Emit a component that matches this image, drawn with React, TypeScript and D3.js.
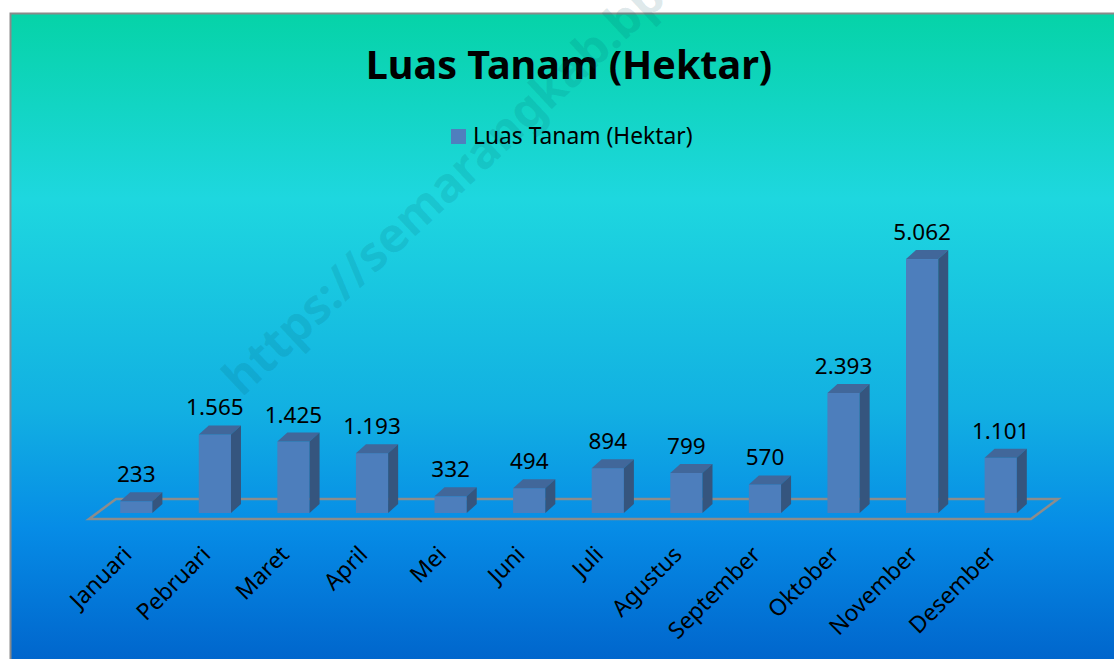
import React from "react";
import * as d3 from "d3";

const months = ["Januari","Pebruari","Maret","April","Mei","Juni","Juli","Agustus","September","Oktober","November","Desember"];
const luasTanam = [233,1565,1425,1193,332,494,894,799,570,2393,5062,1101];
const seriesName = "Luas Tanam (Hektar)";
const titleText = "Luas Tanam (Hektar)";
const watermark = "https://semarangkab.bps.go.id";

const W = 1114, H = 659;
const FONT = "'Noto Sans', 'Open Sans', sans-serif";

const idLocale = d3.formatLocale({ decimal: ",", thousands: ".", grouping: [3], currency: ["Rp", ""] });
const fmt = idLocale.format(",d");

export default function App() {
  const baseY = 513;
  const x = d3.scaleBand<string>().domain(months).range([97, 1040]).paddingInner(0.59).paddingOuter(0.295);
  const y = d3.scaleLinear().domain([0, 6000]).range([baseY, 212]);
  const dx = 10, dy = 9;
  const bw = x.bandwidth();
  const floorFrontY = 519, floorBackY = 499;
  const floorPts = [
    [89, floorFrontY], [1031, floorFrontY], [1058, floorBackY], [116, floorBackY]
  ];
  const line = d3.line();
  return (
    <svg width={W} height={H} style={{ position: "absolute", left: 0, top: 0 }}>
      <defs>
        <linearGradient id="bg" x1="0" y1="0" x2="0" y2="1">
          <stop offset="0" stopColor="#06D3A8" />
          <stop offset="0.28" stopColor="#1ED7DF" />
          <stop offset="0.6" stopColor="#12B0E2" />
          <stop offset="0.78" stopColor="#068CE6" />
          <stop offset="1" stopColor="#0062CA" />
        </linearGradient>
      </defs>
      <rect x={0} y={0} width={W} height={H} fill="#fff" />
      <rect x={10} y={14} width={W} height={H} fill="url(#bg)" />
      <path d={`M10.5,${H} L10.5,13.5 L${W},13.5`} fill="none" stroke="#8a8a8a" strokeWidth={2} />
      <text x={569} y={79} textAnchor="middle" fontFamily={FONT} fontWeight="bold" fontSize={39.5} fill="#000">{titleText}</text>
      <rect x={451} y={129} width={15} height={15} fill="#4F7FBE" />
      <text x={473} y={144} fontFamily={FONT} fontSize={22.8} fill="#000">{seriesName}</text>
      <path d={line(floorPts as [number, number][])! + "Z"} fill="none" stroke="#8C8C8C" strokeWidth={2.5} />
      {months.map((m, i) => {
        const v = luasTanam[i];
        const x0 = x(m)!;
        const yt = y(v);
        const top = [[x0, yt], [x0 + dx, yt - dy], [x0 + bw + dx, yt - dy], [x0 + bw, yt]];
        const side = [[x0 + bw, yt], [x0 + bw + dx, yt - dy], [x0 + bw + dx, baseY - dy], [x0 + bw, baseY]];
        return (
          <g key={m}>
            <rect x={x0} y={yt} width={bw} height={baseY - yt} fill="#4D7EBC" />
            <path d={line(top as [number, number][])! + "Z"} fill="#41679A" />
            <path d={line(side as [number, number][])! + "Z"} fill="#35557E" />
            <text x={x0 + bw / 2} y={yt - 19} textAnchor="middle" fontFamily={FONT} fontSize={22.5} fill="#000">{fmt(v)}</text>
          </g>
        );
      })}
      {months.map((m) => {
        const cx = x(m)! + bw / 2 - 3;
        const cy = 556;
        return (
          <text key={m} x={cx} y={cy} textAnchor="end" transform={`rotate(-45, ${cx}, ${cy})`} fontFamily={FONT} fontSize={23} fill="#000">{m}</text>
        );
      })}
      <text x={242} y={398} transform="rotate(-43, 242, 398)" fontFamily={FONT} fontWeight="bold" fontSize={48} fill="#005060" fillOpacity={0.13}>{watermark}</text>
    </svg>
  );
}
